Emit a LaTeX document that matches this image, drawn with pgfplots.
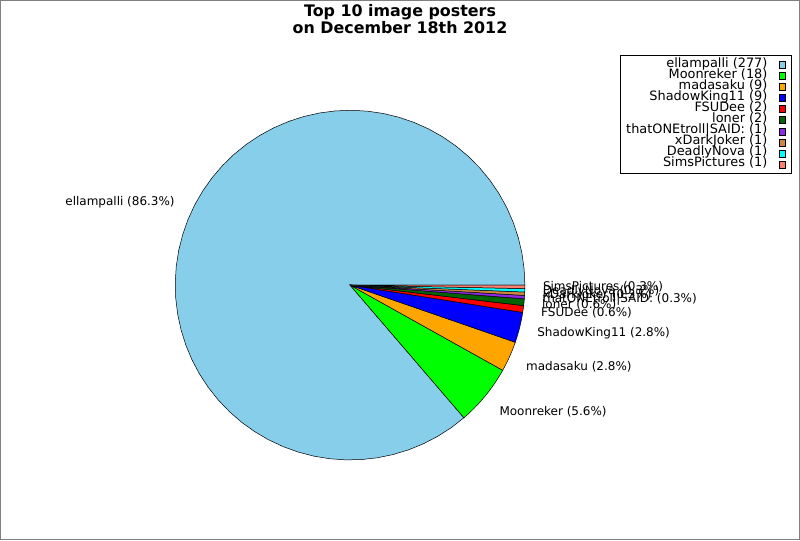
\documentclass[border=0pt]{standalone}
\usepackage{pgfplots}
\pgfplotsset{compat=1.18}
\usepackage{fontspec}
\setmainfont{DejaVu Sans}
\definecolor{cA}{RGB}{135,206,235}
\definecolor{cB}{RGB}{0,255,0}
\definecolor{cC}{RGB}{255,165,0}
\definecolor{cD}{RGB}{0,0,255}
\definecolor{cE}{RGB}{255,0,0}
\definecolor{cF}{RGB}{0,100,0}
\definecolor{cG}{RGB}{138,43,226}
\definecolor{cH}{RGB}{205,133,63}
\definecolor{cI}{RGB}{0,255,255}
\definecolor{cJ}{RGB}{250,128,114}
\newcommand\labelfont{\fontsize{12}{13}\selectfont}
\def\total{321}
\gdef\cumang{0}
\newcommand\slice[3]{%
  \pgfmathsetmacro\angA{\cumang}%
  \pgfmathsetmacro\angB{\cumang+#1/\total*360}%
  \pgfmathsetmacro\angM{(\angA+\angB)/2}%
  \xdef\cumang{\angB}%
  \pgfmathtruncatemacro\pctt{round(#1/\total*1000)}%
  \pgfmathtruncatemacro\pI{\pctt/10}%
  \pgfmathtruncatemacro\pD{\pctt-10*\pI}%
  \pgfmathsetmacro\cx{cos(\angM)}%
  \pgfmathsetmacro\lx{350+193*cos(\angM)}%
  \pgfmathsetmacro\ly{255+200*sin(\angM)}%
  \ifdim\cx pt>0pt \def\anch{west}\else\def\anch{east}\fi
  \edef\doslice{\noexpand\addplot[fill=#2, draw=black, line width=0.5pt, domain=\angA:\angB, samples=60] ({350+175*cos(x)},{255+175*sin(x)}) -- (axis cs:350,255) -- cycle;}%
  \doslice
  \addlegendentry{#3 (#1)}%
  \edef\dolabel{\noexpand\node[anchor=\anch, font=\noexpand\labelfont, inner sep=0pt] at (axis cs:\lx,\ly) {#3 (\pI.\pD\noexpand\%)};}%
  \dolabel
}
\begin{document}
\begin{tikzpicture}
\begin{axis}[
  width=800pt, height=540pt, scale only axis,
  xmin=0, xmax=800, ymin=0, ymax=540,
  axis lines=box, axis line style={draw=gray, line width=0.8pt},
  xtick=\empty, ytick=\empty, clip=false,
  legend plot pos=right,
  legend image code/.code={\draw[#1, line width=0.4pt] (0pt,-3.5pt) rectangle (6pt,3.5pt);},
  legend style={at={(axis cs:792,485)}, anchor=north east, draw=black, line width=0.6pt,
    font=\fontsize{12.9}{11}\selectfont, cells={anchor=east},
    nodes={inner sep=0pt, text height=8pt, text depth=3.1pt},
    inner xsep=5.5pt, inner ysep=3.5pt, row sep=0pt, /tikz/column sep=12pt},
]
\slice{277}{cA}{ellampalli}
\slice{18}{cB}{Moonreker}
\slice{9}{cC}{madasaku}
\slice{9}{cD}{ShadowKing11}
\slice{2}{cE}{FSUDee}
\slice{2}{cF}{loner}
\slice{1}{cG}{thatONEtroll|SAID:}
\slice{1}{cH}{xDarkJoker}
\slice{1}{cI}{DeadlyNova}
\slice{1}{cJ}{SimsPictures}
\node[anchor=north, align=center, inner sep=0pt, font=\bfseries\fontsize{15.9}{14}\selectfont] at (axis cs:400,536) {Top 10 image posters\\on December 18th 2012};
\end{axis}
\end{tikzpicture}
\end{document}
